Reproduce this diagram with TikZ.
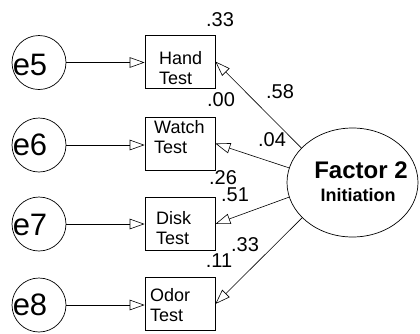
\documentclass[tikz,border=0pt]{standalone}
\usepackage{fontspec}
\setmainfont{Liberation Sans}
\usetikzlibrary{arrows.meta,shapes.geometric}
\tikzset{
  errc/.style={draw, circle, minimum size=54pt, inner sep=0pt, line width=0.7pt},
  obsbox/.style={draw, rectangle, minimum width=70pt, minimum height=53pt, inner sep=0pt, line width=0.7pt},
  etxt/.style={inner sep=0pt, font=\fontsize{31}{33}\selectfont},
  btxt/.style={inner sep=0pt, anchor=west, align=left, font=\fontsize{18}{20.5}\selectfont},
  num/.style={inner sep=0pt, font=\fontsize{20}{22}\selectfont},
  arr/.style={-{Triangle[open, length=15pt, width=10.5pt]}, line width=0.6pt},
}
\begin{document}
\begin{tikzpicture}[x=1pt,y=-1pt]
\useasboundingbox (0,0) rectangle (420,333);
% error circles
\node[errc] (e5) at (39,62.5) {};
\node[errc] (e6) at (39,145) {};
\node[errc] (e7) at (39,224) {};
\node[errc] (e8) at (39,305) {};
\node[etxt] (t5) at (30,64.5) {e5};
\node[etxt] (t6) at (30,145) {e6};
\node[etxt] (t7) at (30,225) {e7};
\node[etxt] (t8) at (30,305) {e8};
% boxes
\node[obsbox] (hand) at (180,61.5) {};
\node[obsbox] (watch) at (180,143.5) {};
\node[obsbox] (disk) at (180,224) {};
\node[obsbox] (odor) at (180,304) {};
\node[btxt] (handt) at (159,68) {Hand\\Test};
\node[btxt] (watcht) at (154,137) {Watch\\Test};
\node[btxt] (diskt) at (156,228) {Disk\\Test};
\node[btxt] (odort) at (150,305) {Odor\\Test};
% factor
\node[draw, ellipse, minimum width=131pt, minimum height=109pt, inner sep=0pt, line width=0.7pt] (F) at (352.5,182.5) {};
\node[inner sep=0pt, font=\fontsize{24}{26}\selectfont\bfseries] (ft1) at (361,170) {Factor 2};
\node[inner sep=0pt, font=\fontsize{18}{20}\selectfont\bfseries] (ft2) at (358,195) {Initiation};
% error arrows
\draw[arr] (e5.east) -- (e5.east -| hand.west);
\draw[arr] (e6.east) -- (e6.east -| watch.west);
\draw[arr] (e7.east) -- (e7.east -| disk.west);
\draw[arr] (e8.east) -- (e8.east -| odor.west);
% loading arrows
\draw[arr] (F.146.7) -- (hand.east);
\draw[arr] (F.167) -- (watch.east);
\draw[arr] (F.193.5) -- (disk.east);
\draw[arr] (F.215) -- (odor.east);
% numbers
\node[num] (r1) at (220,20) {.33};
\node[num] (r2) at (221,100) {.00};
\node[num] (r3) at (223,178) {.26};
\node[num] (r4) at (219,261) {.11};
\node[num] (l1) at (280,92) {.58};
\node[num] (l2) at (272,140) {.04};
\node[num] (l3) at (235,195) {.51};
\node[num] (l4) at (245,245) {.33};
\end{tikzpicture}
\end{document}
